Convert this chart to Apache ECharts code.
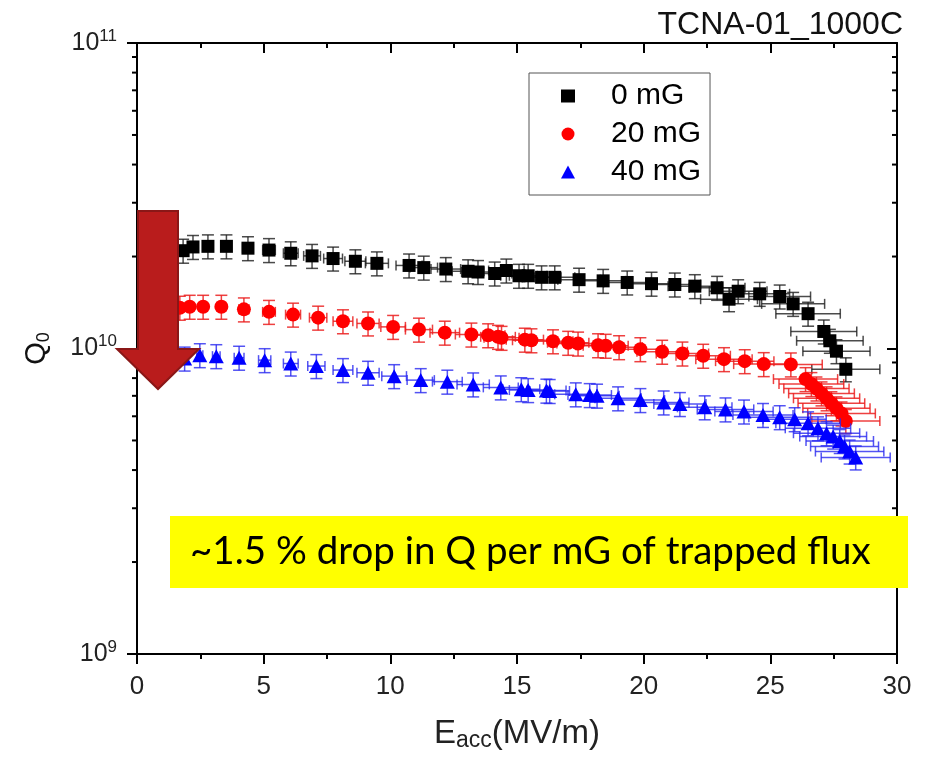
<!DOCTYPE html>
<html>
<head>
<meta charset="utf-8">
<script src="https://cdn.jsdelivr.net/npm/echarts@6/dist/echarts.min.js"></script>
<style>
  html, body { margin: 0; padding: 0; background: #fff; }
  #chart { width: 940px; height: 757px; }
</style>
</head>
<body>
<div id="chart"></div>
<script>
// Q0 vs Eacc, values of Q in units of 1e10
var e0 = [1.82, 2.21, 2.80, 3.53, 4.38, 5.21, 6.07, 6.91, 7.74, 8.62, 9.47, 10.74, 11.32, 12.19, 13.07, 13.46, 14.12, 14.58, 15.08, 15.44, 15.97, 16.49, 17.45, 18.40, 19.35, 20.31, 21.23, 22.02, 22.90, 23.37, 23.73, 24.58, 25.37, 25.90, 26.49, 27.11, 27.35, 27.61, 27.98];
var q0 = [2.09, 2.15, 2.16, 2.16, 2.13, 2.10, 2.05, 2.01, 1.97, 1.93, 1.90, 1.87, 1.84, 1.82, 1.79, 1.78, 1.76, 1.80, 1.73, 1.73, 1.71, 1.71, 1.68, 1.665, 1.645, 1.63, 1.62, 1.60, 1.58, 1.45, 1.54, 1.51, 1.48, 1.40, 1.30, 1.137, 1.06, 0.98, 0.855];

var e20 = [1.69, 2.08, 2.61, 3.33, 4.22, 5.21, 6.16, 7.15, 8.13, 9.12, 10.11, 11.13, 12.15, 13.20, 13.86, 14.25, 14.39, 15.31, 15.57, 16.42, 17.02, 17.41, 18.20, 18.50, 19.03, 19.87, 20.73, 21.53, 22.35, 23.17, 23.99, 24.74, 25.81, 26.39, 26.62, 26.82, 27.02, 27.22, 27.41, 27.61, 27.81, 27.98];
var q20 = [1.36, 1.37, 1.37, 1.37, 1.343, 1.318, 1.291, 1.262, 1.228, 1.208, 1.177, 1.153, 1.127, 1.111, 1.105, 1.092, 1.084, 1.069, 1.064, 1.056, 1.044, 1.038, 1.025, 1.021, 1.010, 0.995, 0.976, 0.963, 0.947, 0.923, 0.909, 0.889, 0.887, 0.794, 0.765, 0.740, 0.713, 0.687, 0.662, 0.637, 0.613, 0.579];

var e40 = [1.88, 2.48, 3.13, 4.03, 5.04, 6.07, 7.08, 8.13, 9.12, 10.15, 11.20, 12.25, 13.27, 14.36, 15.17, 15.44, 16.16, 16.29, 17.32, 17.87, 18.16, 18.99, 19.87, 20.79, 21.43, 22.41, 23.23, 23.96, 24.71, 25.37, 25.96, 26.49, 26.88, 27.22, 27.48, 27.74, 27.93, 28.13, 28.37];
var q40 = [0.927, 0.951, 0.944, 0.933, 0.916, 0.893, 0.876, 0.850, 0.833, 0.812, 0.788, 0.779, 0.763, 0.746, 0.736, 0.731, 0.728, 0.726, 0.708, 0.704, 0.701, 0.687, 0.678, 0.666, 0.658, 0.642, 0.632, 0.622, 0.606, 0.596, 0.587, 0.569, 0.548, 0.528, 0.515, 0.498, 0.478, 0.460, 0.440];

var names = ['0 mG', '20 mG', '40 mG'];
var xTicks = [0, 5, 10, 15, 20, 25, 30];
var yDecades = [9, 10, 11];
var mantissas = [2, 3, 4, 5, 6, 7, 8, 9];

// relative errors of the error bars
var errE = 0.048;
var errQ = 0.09;

function pairs(xs, ys) {
    return xs.map(function (x, i) { return [x, ys[i] * 1e10]; });
}

var minorTicks = [];
yDecades.slice(0, -1).forEach(function (d) {
    mantissas.forEach(function (m) { minorTicks.push([0, m * Math.pow(10, d)]); });
});

var narrow = "'Liberation Sans Narrow', 'Arial Narrow', 'Liberation Sans', sans-serif";
var arial = "'Liberation Sans', Arial, sans-serif";

function seg(x1, y1, x2, y2, st) {
    return { type: 'line', shape: { x1: x1, y1: y1, x2: x2, y2: y2 }, style: st };
}

function errorBars(color) {
    return function (params, api) {
        var x = api.value(0), y = api.value(1);
        var c = api.coord([x, y]);
        var xl = api.coord([x * (1 - errE), y])[0];
        var xr = api.coord([x * (1 + errE), y])[0];
        var yt = api.coord([x, y * (1 + errQ)])[1];
        var yb = api.coord([x, y * (1 - errQ)])[1];
        var st = { stroke: color, lineWidth: 1.5 };
        var h = 5, w = 6;
        return {
            type: 'group',
            children: [
                seg(xl, c[1], xr, c[1], st),
                seg(xl, c[1] - h, xl, c[1] + h, st),
                seg(xr, c[1] - h, xr, c[1] + h, st),
                seg(c[0], yt, c[0], yb, st),
                seg(c[0] - w, yt, c[0] + w, yt, st),
                seg(c[0] - w, yb, c[0] + w, yb, st)
            ]
        };
    };
}

var myChart = echarts.init(document.getElementById('chart'));

var axisLine = { show: true, onZero: false, lineStyle: { color: '#000', width: 2 } };

var option = {
    backgroundColor: '#fff',
    animation: false,
    title: {
        text: 'TCNA-01_1000C',
        right: 32,
        top: 4,
        textStyle: { fontFamily: arial, fontSize: 32, fontWeight: 'normal', color: '#111' }
    },
    legend: {
        data: names,
        orient: 'vertical',
        left: 529,
        top: 73,
        padding: [8, 9, 8, 32],
        itemGap: 8,
        itemWidth: 14,
        itemHeight: 13,
        borderColor: '#555',
        borderWidth: 1,
        selectedMode: false,
        textStyle: { fontFamily: arial, fontSize: 30, color: '#000', padding: [0, 0, 0, 31] }
    },
    grid: { left: 137, right: 43, top: 43, bottom: 100, containLabel: false },
    xAxis: [{
        type: 'value',
        min: 0,
        max: 30,
        interval: 5,
        position: 'bottom',
        axisLine: axisLine,
        axisTick: { show: true, inside: false, length: 10, lineStyle: { color: '#000', width: 2 } },
        minorTick: { show: true, splitNumber: 2, length: 5, lineStyle: { color: '#000', width: 2 } },
        splitLine: { show: false },
        axisLabel: {
            fontFamily: narrow, fontSize: 26, color: '#222', margin: 20,
            formatter: function (v) { return xTicks.indexOf(v) >= 0 ? String(v) : ''; }
        },
        name: '{e|E}{s|acc}{e|(MV/m)}',
        nameLocation: 'middle',
        nameGap: 62,
        nameTextStyle: {
            rich: {
                e: { fontFamily: narrow, fontSize: 33, color: '#222', lineHeight: 36 },
                s: { fontFamily: narrow, fontSize: 23, color: '#222', lineHeight: 14, verticalAlign: 'bottom' }
            }
        }
    }, {
        type: 'value',
        min: 0,
        max: 30,
        interval: 5,
        position: 'top',
        axisLine: axisLine,
        axisTick: { show: true, inside: true, length: 10, lineStyle: { color: '#000', width: 2 } },
        minorTick: { show: true, splitNumber: 2, length: 5, lineStyle: { color: '#000', width: 2 } },
        splitLine: { show: false },
        axisLabel: { show: false }
    }],
    yAxis: [{
        type: 'log',
        logBase: 10,
        min: 1e9,
        max: 1e11,
        position: 'left',
        axisLine: axisLine,
        axisTick: { show: true, inside: false, length: 10, lineStyle: { color: '#000', width: 2 } },
        splitLine: { show: false },
        axisLabel: {
            margin: 20,
            fontSize: 25,
            formatter: function (v) {
                return '{base|10}{sup|' + Math.round(Math.log10(v)) + '}';
            },
            rich: {
                base: { fontFamily: arial, fontSize: 25, color: '#222', lineHeight: 31 },
                sup: { fontFamily: arial, fontSize: 17, color: '#222', lineHeight: 15, verticalAlign: 'top' }
            }
        },
        name: '{q|Q}{s|0}',
        nameLocation: 'middle',
        nameRotate: 90,
        nameGap: 84,
        nameTextStyle: {
            rich: {
                q: { fontFamily: arial, fontSize: 29, color: '#111', lineHeight: 32 },
                s: { fontFamily: arial, fontSize: 18, color: '#111', lineHeight: 14, verticalAlign: 'bottom' }
            }
        }
    }, {
        type: 'log',
        logBase: 10,
        min: 1e9,
        max: 1e11,
        position: 'right',
        axisLine: axisLine,
        axisTick: { show: true, inside: true, length: 10, lineStyle: { color: '#000', width: 2 } },
        splitLine: { show: false },
        axisLabel: { show: false }
    }],
    graphic: [{
        type: 'polygon',
        z: 100,
        shape: { points: [[138, 211], [178, 211], [178, 349], [199, 349], [158, 389], [117, 349], [138, 349]] },
        style: { fill: '#b91c1c', stroke: '#8a1717', lineWidth: 2 }
    }, {
        type: 'rect',
        z: 100,
        shape: { x: 170, y: 516, width: 738, height: 72 },
        style: { fill: '#ffff00' }
    }, {
        type: 'text',
        z: 101,
        x: 190,
        y: 552,
        style: {
            text: '~1.5 % drop in Q per mG of trapped flux',
            fontFamily: "Lato, 'Noto Sans', sans-serif",
            fontSize: 38.5,
            fill: '#000',
            verticalAlign: 'middle'
        }
    }],
    series: [{
        name: 'minor ticks',
        type: 'custom',
        silent: true,
        clip: false,
        z: 3,
        data: minorTicks,
        renderItem: function (params, api) {
            var l = api.coord([0, api.value(1)]);
            var r = api.coord([30, api.value(1)]);
            var st = { stroke: '#000', lineWidth: 2 };
            return {
                type: 'group',
                children: [seg(l[0] - 5, l[1], l[0], l[1], st), seg(r[0] - 5, r[1], r[0], r[1], st)]
            };
        }
    }, {
        name: 'err0', type: 'custom', silent: true, z: 2,
        data: pairs(e0, q0), renderItem: errorBars('rgba(30,30,30,0.8)')
    }, {
        name: names[0], type: 'scatter', symbol: 'rect', symbolSize: 13, z: 4,
        itemStyle: { color: '#000', opacity: 1 },
        data: pairs(e0, q0)
    }, {
        name: 'err20', type: 'custom', silent: true, z: 5,
        data: pairs(e20, q20), renderItem: errorBars('rgba(235,30,30,0.85)')
    }, {
        name: names[1], type: 'scatter', symbol: 'circle', symbolSize: 14, z: 6,
        itemStyle: { color: '#ff0000', opacity: 1 },
        data: pairs(e20, q20)
    }, {
        name: 'err40', type: 'custom', silent: true, z: 7,
        data: pairs(e40, q40), renderItem: errorBars('rgba(40,40,240,0.8)')
    }, {
        name: names[2], type: 'scatter', symbol: 'triangle', symbolSize: [15, 14], z: 8,
        itemStyle: { color: '#0000ff', opacity: 1 },
        data: pairs(e40, q40)
    }]
};

myChart.setOption(option);
</script>
</body>
</html>
